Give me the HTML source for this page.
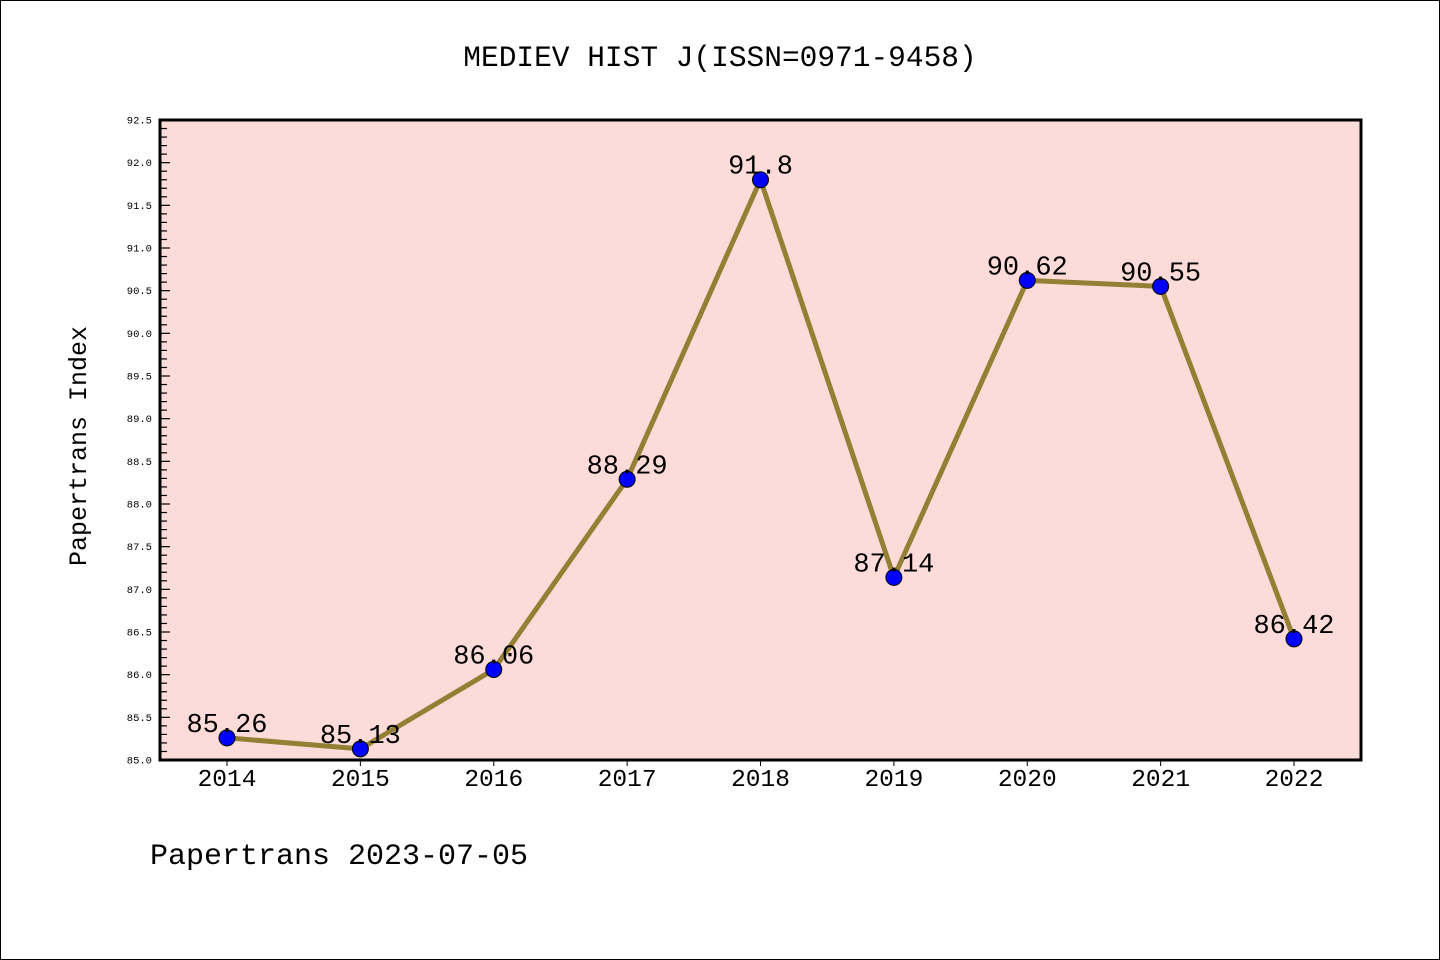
<!DOCTYPE html>
<html><head><meta charset="utf-8"><style>
html,body{margin:0;padding:0;background:#fff}
svg{display:block}
text{font-family:"Liberation Mono","DejaVu Sans Mono",monospace}
</style></head><body>
<svg id="chart" width="1440" height="960" xmlns="http://www.w3.org/2000/svg">
<rect x="0.5" y="0.5" width="1439" height="959" fill="#fff" stroke="#000"/>
<text x="720" y="66" font-size="29.5" text-anchor="middle">MEDIEV HIST J(ISSN=0971-9458)</text>
<text x="86" y="446" font-size="25" text-anchor="middle" transform="rotate(-90 86 446)">Papertrans Index</text>
<text x="150" y="864" font-size="30">Papertrans 2023-07-05</text>
<g id="plot"></g>
</svg>
<script>
const years = ["2014","2015","2016","2017","2018","2019","2020","2021","2022"];
const values = [85.26,85.13,86.06,88.29,91.8,87.14,90.62,90.55,86.42];
const valueLabels = ["85.26","85.13","86.06","88.29","91.8","87.14","90.62","90.55","86.42"];
const yMin = 85.0, yMax = 92.5;
const ns = "http://www.w3.org/2000/svg";
const L=160,R=1361,T=120,B=760;
const xs = i => 227 + i*(1294-227)/(years.length-1);
const ys = v => B - (v-yMin)/(yMax-yMin)*(B-T);
const g = document.getElementById('plot');
function mk(tag, attrs){const e=document.createElementNS(ns,tag);for(const k in attrs)e.setAttribute(k,attrs[k]);g.appendChild(e);return e;}
const bg = mk('rect',{x:L,y:T,width:R-L,height:B-T,fill:'#fddbd8'});


for(let k=0;k<=75;k++){
  const v=yMin+k*0.1, y=ys(v), major=k%5===0;
  const t=mk('line',{x1:L,x2:L+(major?10:7),y1:y,y2:y,stroke:'#000','stroke-width':1.2});
  
  
  if(major){
    const tl=mk('text',{x:L-8,y:y+3.5,'font-size':10.5,'text-anchor':'end','font-family':'DejaVu Sans, sans-serif'});
    tl.textContent=v.toFixed(1);
    
    
  }
}
years.forEach((yr,i)=>{
  const t=mk('line',{x1:xs(i),x2:xs(i),y1:B,y2:B+6,stroke:'#000','stroke-width':1});
  
  
  const tl=mk('text',{x:xs(i),y:B+26,'font-size':24.5,'text-anchor':'middle'});
  tl.textContent=yr;
  
  
});
const line=mk('polyline',{points:values.map((v,i)=>xs(i)+','+ys(v)).join(' '),fill:'none',stroke:'#947f35','stroke-width':5,'stroke-linejoin':'round'});


values.forEach((v,i)=>{
  const c=mk('circle',{cx:xs(i),cy:ys(v),r:8,fill:'#0000ff',stroke:'#000','stroke-width':1});
  
  
  const t=mk('text',{x:xs(i),y:ys(v)-6,'font-size':27,'text-anchor':'middle'});
  t.textContent=valueLabels[i];
  
  
});
const fr=mk('rect',{x:L,y:T,width:R-L,height:B-T,fill:'none',stroke:'#000','stroke-width':3});


</script>
</body></html>
